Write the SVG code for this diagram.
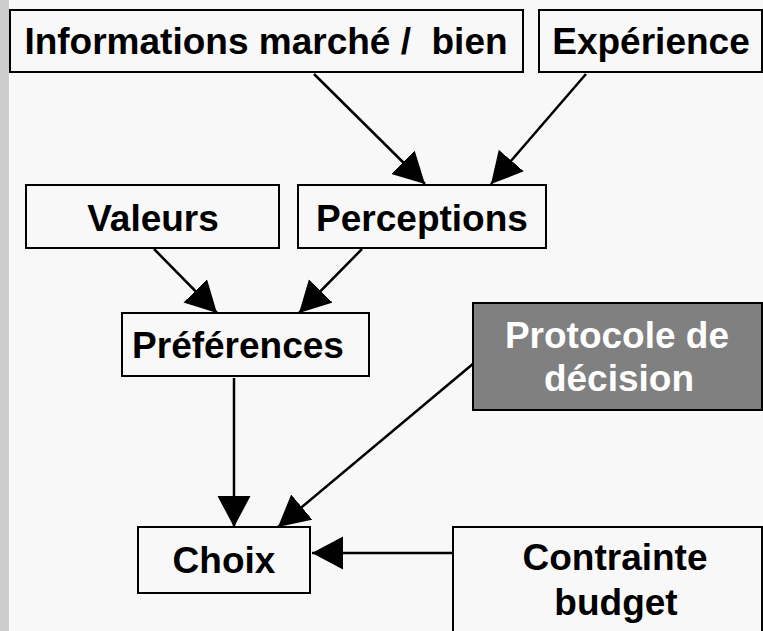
<svg xmlns="http://www.w3.org/2000/svg" width="763" height="631" viewBox="0 0 763 631">
<defs>
<style>
.box{fill:#f8f8f8;stroke:#000;stroke-width:2}
.dark{fill:#808080;stroke:#000;stroke-width:2}
.t{font-family:"Liberation Sans",Arial,sans-serif;font-weight:bold;font-size:37px;fill:#000;text-anchor:middle;white-space:pre}
.w{fill:#fff}
.c{stroke:#000;stroke-width:2.5;fill:none;marker-end:url(#ah)}
</style>
<marker id="ah" markerUnits="userSpaceOnUse" markerWidth="32" markerHeight="34" refX="31" refY="16.5" orient="auto">
<path d="M0,0 L31,16.5 L0,33 z" fill="#000"/>
</marker>
</defs>
<rect x="0" y="0" width="763" height="631" fill="#f8f8f8"/>
<rect x="0" y="0" width="9" height="631" fill="#cccccc"/>
<rect x="9" y="0" width="1" height="631" fill="#ffffff"/>
<g id="connectors">
<line class="c" x1="314" y1="74" x2="425" y2="184"/>
<line class="c" x1="586" y1="74" x2="491" y2="184"/>
<line class="c" x1="154" y1="249" x2="217" y2="313"/>
<line class="c" x1="362" y1="249" x2="299" y2="313"/>
<line class="c" x1="234" y1="378" x2="234" y2="527"/>
<line class="c" x1="474" y1="363" x2="278" y2="527"/>
<line class="c" x1="453" y1="553" x2="312" y2="553"/>
</g>
<g id="informations">
<rect class="box" x="10" y="10" width="513" height="62"/>
<text class="t" x="266" y="54" xml:space="preserve">Informations marché /  bien</text>
</g>
<g id="experience">
<rect class="box" x="539" y="10" width="223" height="62"/>
<text class="t" x="651" y="54">Expérience</text>
</g>
<g id="valeurs">
<rect class="box" x="26" y="185" width="253" height="63"/>
<text class="t" x="153" y="231">Valeurs</text>
</g>
<g id="perceptions">
<rect class="box" x="298" y="185" width="248" height="63"/>
<text class="t" x="422" y="231">Perceptions</text>
</g>
<g id="preferences">
<rect class="box" x="122" y="313" width="247" height="63"/>
<text class="t" x="238" y="358">Préférences</text>
</g>
<g id="protocole">
<rect class="dark" x="473" y="303" width="289" height="107"/>
<text class="t w" x="617" y="348">Protocole de</text>
<text class="t w" x="619" y="391">décision</text>
</g>
<g id="choix">
<rect class="box" x="138" y="527" width="172" height="66"/>
<text class="t" x="224" y="573">Choix</text>
</g>
<g id="contrainte">
<rect class="box" x="453" y="527" width="309" height="110"/>
<text class="t" x="615" y="570">Contrainte</text>
<text class="t" x="616" y="615">budget</text>
</g>
</svg>
